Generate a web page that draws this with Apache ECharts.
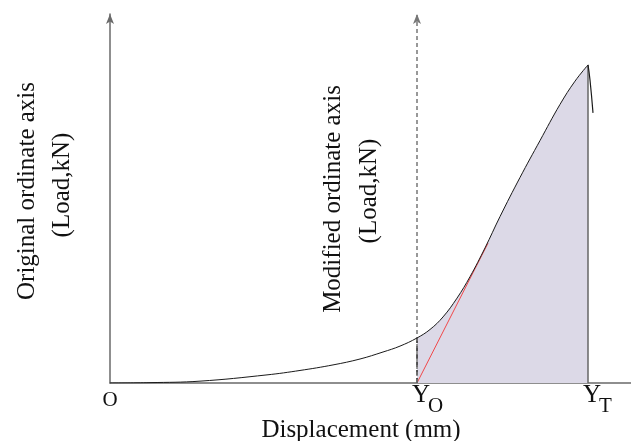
<!DOCTYPE html>
<html>
<head>
<meta charset="utf-8">
<script src="https://cdn.jsdelivr.net/npm/echarts@6/dist/echarts.min.js"></script>
<style>
  html, body { margin: 0; padding: 0; background: #fff; }
  #chart { width: 631px; height: 441px; }
</style>
</head>
<body>
<div id="chart"></div>
<script>
// Load–displacement curve (rising branch up to the peak)
const displacement = [0, 0.8, 1.8, 3.14, 3.8, 4.46, 5.0, 5.46, 5.8, 6.14, 6.40, 6.66, 6.94, 7.20, 7.50, 7.80, 8.20, 8.60, 9.00, 9.30, 9.56];
const load         = [0, 0.01, 0.05, 0.22, 0.34, 0.49, 0.65, 0.84, 1.0, 1.22, 1.45, 1.79, 2.30, 2.88, 3.66, 4.51, 5.57, 6.57, 7.55, 8.18, 8.62];
// Post-peak drop
const fallDisplacement = [9.56, 9.60, 9.66];
const fallLoad         = [8.62, 8.21, 7.32];
// Shifted origin (modified ordinate) and terminal displacement
const yO = 6.14;
const yT = 9.56;
// Tangent from the shifted origin
const tangentX = [6.14, 7.56];
const tangentY = [0, 3.79];
// Axis marks under the abscissa
const markValues = [0, yO, yT];
const markMain   = ['O', 'Y', 'Y'];
const markSub    = ['', 'O', 'T'];

const FONT = '"Liberation Serif", "DejaVu Serif", serif';

const curve = displacement.map((x, i) => [x, load[i]]);
const fall = fallDisplacement.map((x, i) => [x, fallLoad[i]]);
const fillArea = curve.filter(p => p[0] >= yO);
const tangent = tangentX.map((x, i) => [x, tangentY[i]]);
const loadAt = (x) => load[displacement.indexOf(x)];

const chart = echarts.init(document.getElementById('chart'), null, { renderer: 'canvas' });

chart.setOption({
  animation: false,
  backgroundColor: '#ffffff',
  grid: { left: 110, right: 0, top: 14, bottom: 58 },
  xAxis: {
    type: 'value', min: 0, max: 10.42,
    axisLine: { show: true, lineStyle: { color: '#6a6a6a', width: 1.5 } },
    axisTick: { show: false }, axisLabel: { show: false }, splitLine: { show: false }
  },
  yAxis: {
    type: 'value', min: 0, max: 10,
    axisLine: {
      show: true, symbol: ['none', 'arrow'], symbolSize: [6, 10],
      lineStyle: { color: '#6a6a6a', width: 1.5 }
    },
    axisTick: { show: false }, axisLabel: { show: false }, splitLine: { show: false }
  },
  series: [
    {
      name: 'Fracture energy', type: 'line', data: fillArea,
      smooth: 0.4, showSymbol: false, silent: true, z: 1,
      lineStyle: { width: 0 },
      areaStyle: { color: '#dcd9e7', opacity: 1 }
    },
    {
      name: 'Load', type: 'line', data: curve,
      smooth: 0.4, showSymbol: false, z: 5,
      lineStyle: { color: '#1a1a1a', width: 1 },
      markLine: {
        silent: true, symbol: 'none', label: { show: false },
        data: [
          [
            { coord: [yO, 0], lineStyle: { color: '#222', width: 1.5, type: [5, 3] } },
            { coord: [yO, loadAt(yO)] }
          ],
          [
            { coord: [yT, 0], lineStyle: { color: '#666', width: 1.5, type: 'solid' } },
            { coord: [yT, loadAt(yT)] }
          ]
        ]
      }
    },
    {
      name: 'Drop', type: 'line', data: fall,
      smooth: 0.5, showSymbol: false, z: 5,
      lineStyle: { color: '#1a1a1a', width: 1.2 }
    },
    {
      name: 'Tangent', type: 'line', data: tangent,
      showSymbol: false, z: 4,
      lineStyle: { color: '#f0484a', width: 1 }
    },
    {
      name: 'Modified ordinate', type: 'line', data: [],
      markLine: {
        silent: true, label: { show: false },
        symbol: ['none', 'arrow'], symbolSize: [6, 10],
        lineStyle: { color: '#777', width: 1.5, type: [4, 3] },
        data: [[{ coord: [yO, 0] }, { coord: [yO, 10] }]]
      }
    }
  ]
});

// Text placed from the grid's own scale
const toPx = (x, y) => chart.convertToPixel({ gridIndex: 0 }, [x, y]);
const graphics = [];
const base = toPx(0, 0)[1];
markValues.forEach((v, i) => {
  const px = toPx(v, 0)[0];
  if (markSub[i]) {
    graphics.push({
      type: 'text', x: px + 4, y: base + 12,
      style: { text: markMain[i], font: '25px ' + FONT, fill: '#111', align: 'center', verticalAlign: 'middle' }
    });
    graphics.push({
      type: 'text', x: px + 11, y: base + 23,
      style: { text: markSub[i], font: '21px ' + FONT, fill: '#111', align: 'left', verticalAlign: 'middle' }
    });
  } else {
    graphics.push({
      type: 'text', x: px, y: base + 17,
      style: { text: markMain[i], font: '21px ' + FONT, fill: '#111', align: 'center', verticalAlign: 'middle' }
    });
  }
});

const yoPx = toPx(yO, 0)[0];
const verticalText = (text, x, y) => ({
  type: 'text', x: x, y: y, rotation: Math.PI / 2,
  style: { text: text, font: '25px ' + FONT, fill: '#111', align: 'center', verticalAlign: 'middle' }
});
graphics.push(verticalText('Original ordinate axis', 27, 191));
graphics.push(verticalText('(Load,kN)', 62, 185));
graphics.push(verticalText('Modified ordinate axis', yoPx - 84, 199));
graphics.push(verticalText('(Load,kN)', yoPx - 48, 191));

graphics.push({
  type: 'text', x: 361, y: 430,
  style: { text: 'Displacement (mm)', font: '25px ' + FONT, fill: '#111', align: 'center', verticalAlign: 'middle' }
});
graphics.push({
  type: 'text', x: 520, y: 295,
  style: { text: 'Fracture', font: '25px ' + FONT, fill: '#111', align: 'center', verticalAlign: 'middle' }
});
graphics.push({
  type: 'text', x: 520, y: 328,
  style: { text: 'energy', font: '25px ' + FONT, fill: '#111', align: 'center', verticalAlign: 'middle' }
});

chart.setOption({ graphic: { elements: graphics } });
</script>
</body>
</html>
